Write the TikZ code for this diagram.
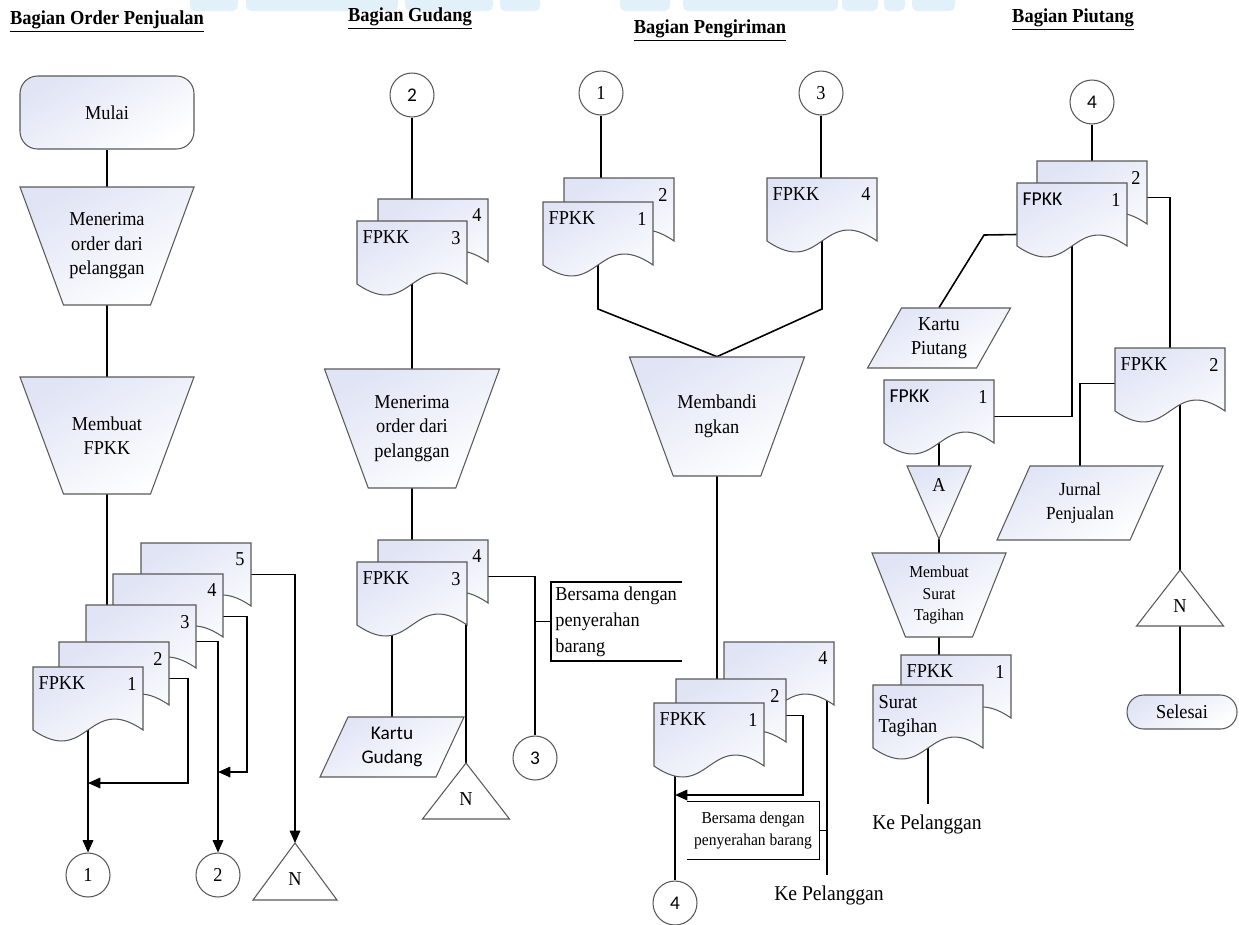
\documentclass[tikz,border=0pt]{standalone}
\usepackage{fontspec}
\setmainfont{Liberation Serif}[FakeStretch=0.93]
\newfontfamily\calibri{Carlito}
\usepackage{tikz}
\usetikzlibrary{arrows.meta,calc}
\definecolor{biru}{RGB}{224,228,245}
\definecolor{pita}{RGB}{226,240,250}
\pgfdeclarelayer{belakang}
\pgfsetlayers{belakang,main}
\newcommand{\kecil}{\fontsize{9.5}{12}\selectfont}
\newcommand{\besar}{\fontsize{12}{14}\selectfont}
\newcommand{\hurufsans}{\calibri\fontsize{11}{14}\selectfont}
\tikzset{
  garis/.style={draw=black, line width=0.9pt},
  panah/.style={garis, -{Triangle[length=7pt,width=6pt]}},
  bentuk/.style={draw=black!65, line width=0.6pt, top color=biru, bottom color=white, shading angle=30},
  polos/.style={draw=black!65, line width=0.6pt, fill=white},
  isi/.style={inner sep=0pt, align=center},
  kotak/.style={inner sep=0pt, minimum width=2.2cm, minimum height=1.26cm},
  tulisanki/.style={anchor=north west, inner xsep=3pt, inner ysep=5.5pt, align=left},
  tulisanka/.style={anchor=north east, inner xsep=3.5pt, inner ysep=5.5pt},
  lingkar/.style={circle, polos, minimum size=0.88cm, inner sep=0pt},
  judul/.style={font=\fontsize{11.3}{13}\selectfont\bfseries},
  catatan/.style={inner sep=0pt, align=left}
}
% dokumen: nama, x kiri, y atas, teks kiri, teks kanan
\newcommand{\dokumen}[5]{%
  \draw[bentuk] (#2,#3) -- ({#2+110},#3) -- ({#2+110},{#3+63})
    .. controls ({#2+55},{#3+25}) and ({#2+55},{#3+101}) .. (#2,{#3+63}) -- cycle;
  \node[kotak] (#1) at ({#2+55},{#3+31.5}) {};
  \node[tulisanki] (#1l) at (#2,#3) {#4};
  \node[tulisanka] (#1r) at ({#2+110},#3) {#5};
}
% proses manual: nama, x tengah, y atas, lebar atas, tinggi, teks
\newcommand{\proses}[7][]{%
  \draw[bentuk] ({#3-#5/2},#4) -- ({#3+#5/2},#4) -- ({#3+#5/4},{#4+#6})
    -- ({#3-#5/4},{#4+#6}) -- cycle;
  \node[isi, minimum width={#5*0.02cm}, minimum height={#6*0.02cm}, #1] (#2) at (#3,{#4+#6/2}) {#7};
}
% data: nama, x tengah, y atas, lebar, miring, tinggi, teks
\newcommand{\data}[8][]{%
  \draw[bentuk] ({#3-#5/2+#6/2},#4) -- ({#3+#5/2+#6/2},#4) -- ({#3+#5/2-#6/2},{#4+#7})
    -- ({#3-#5/2-#6/2},{#4+#7}) -- cycle;
  \node[isi, minimum height={#7*0.02cm}, #1] (#2) at (#3,{#4+#7/2}) {#8};
}
% arsip: nama, x puncak, y puncak, lebar, tinggi, teks
\newcommand{\segitiga}[6]{%
  \draw[polos] (#2,#3) -- ({#2+#4/2},{#3+#5}) -- ({#2-#4/2},{#3+#5}) -- cycle;
  \coordinate (#1a) at (#2,#3);
  \coordinate (#1b) at (#2,{#3+#5});
  \node[isi] (#1) at (#2,{#3+#5*0.64}) {#6};
}
\begin{document}
\begin{tikzpicture}[x=0.02cm, y=-0.02cm, font=\fontsize{11.2}{14}\selectfont]
  \useasboundingbox (0,0) rectangle (1239,924);
  % pita di atas
  \foreach \a/\b in {190/238, 246/398, 405/493, 500/540, 620/670, 683/838, 842/878, 884/905, 912/955}
    \fill[pita, rounded corners=3pt] (\a,-6) rectangle (\b,11);
  % Bagian Order Penjualan
  \begin{scope}
    \node[judul] (j1) at (107,22) {\underline{Bagian Order Penjualan}};
    \node[bentuk, rounded corners=10pt, minimum width=3.48cm, minimum height=1.46cm] (mulai) at (107,112.5) {Mulai};
    \proses{p1}{107}{187}{174}{118}{Menerima\\order dari\\pelanggan}
    \proses{p2}{107}{377}{174}{117}{Membuat\\FPKK}
    \dokumen{d15}{141}{543}{}{5}
    \dokumen{d14}{113}{574}{}{4}
    \dokumen{d13}{86}{605}{}{3}
    \dokumen{d12}{59}{642}{}{2}
    \dokumen{d11}{33}{667}{FPKK}{1}
    \node[lingkar] (k11) at (88,875) {1};
    \node[lingkar] (k12) at (218,875) {2};
    \segitiga{n1}{295}{843}{84}{57}{N}
    \coordinate (b11) at (188,783);
    \coordinate (b12) at (247,772);
    \begin{pgfonlayer}{belakang}
      \draw[garis] (mulai) -- (p1);
      \draw[garis] (p1) -- (p2);
      \draw[garis] (p2.south) -- (p2.south |- d13.north);
      \draw[panah] (d11) -- (k11);
      \draw[panah] ($(d12.east)+(0,5)$) -| (b11) -- (b11 -| k11);
      \draw[panah] ($(d13.east)+(0,5)$) -| (k12.north);
      \draw[panah] ($(d14.east)+(0,11)$) -| (b12) -- (b12 -| k12);
      \draw[panah] (d15.east) -| (n1a);
    \end{pgfonlayer}
  \end{scope}
  % Bagian Gudang
  \begin{scope}
    \node[judul] (j2) at (410,19) {\underline{Bagian Gudang}};
    \node[lingkar, font=\hurufsans] (k21) at (412,95) {2};
    \dokumen{d24}{378}{199}{}{4}
    \dokumen{d23}{357}{221}{FPKK}{3}
    \proses{p3}{412}{369}{175}{119}{Menerima\\order dari\\pelanggan}
    \dokumen{d26}{378}{540}{}{4}
    \dokumen{d25}{357}{562}{FPKK}{3}
    \data[font=\hurufsans]{kg}{392}{717}{116}{28}{60}{Kartu\\Gudang}
    \segitiga{n2}{466}{763}{87}{56}{N}
    \node[lingkar, font=\hurufsans] (k22) at (535,758) {3};
    \node[catatan, anchor=west, font=\fontsize{11.2}{14.8}\selectfont] (kb1) at (555,621.5) {Bersama dengan\\penyerahan\\barang};
    \coordinate (kb1k) at (551,621.5);
    \draw[garis] (682,582) -- (551,582) -- (551,661) -- (682,661);
    \begin{pgfonlayer}{belakang}
      \draw[garis] (k21) -- (k21 |- d24.north);
      \draw[garis] (d23) -- (p3);
      \draw[garis] (p3) -- (p3.south |- d26.north);
      \draw[garis] (kg.north |- d25.center) -- (kg.north);
      \draw[garis] (n2a |- d25.east) -- (n2a);
      \draw[garis] ($(d26.east)+(0,5)$) -| (k22.north);
      \draw[garis] (k22 |- kb1k) -- (kb1k);
    \end{pgfonlayer}
  \end{scope}
  % Bagian Pengiriman
  \begin{scope}
    \node[judul] (j3) at (710,31) {\underline{Bagian Pengiriman}};
    \node[lingkar] (k31) at (601,93) {1};
    \node[lingkar] (k32) at (821,93) {3};
    \dokumen{d32}{564}{178}{}{2}
    \dokumen{d31}{543}{202}{FPKK}{1}
    \dokumen{d33}{767}{178}{FPKK}{4}
    \proses{p4}{717}{357}{175}{119}{Membandi\\ngkan}
    \dokumen{d36}{724}{642}{}{4}
    \dokumen{d35}{676}{679}{}{2}
    \dokumen{d34}{654}{703}{FPKK}{1}
    \node[lingkar, font=\hurufsans] (k33) at (675,903) {4};
    \node[isi, font=\kecil, minimum width=2.64cm, minimum height=1.14cm] (kb2) at (753,830.5) {Bersama dengan\\penyerahan barang};
    \draw[garis] (kb2.north west) -- (kb2.north east) -- (kb2.south east) -- (kb2.south west);
    \node[isi, font=\besar] (kp1) at (829,895) {Ke Pelanggan};
    \coordinate (s31) at (598,309);
    \coordinate (s32) at (822,309);
    \coordinate (b31) at (803,795);
    \coordinate (e31) at (827,875);
    \begin{pgfonlayer}{belakang}
      \draw[garis] (k31) -- (k31 |- d32.north);
      \draw[garis] (k32) -- (k32 |- d33.north);
      \draw[garis] (d31.center) -- (s31) -- (p4.north);
      \draw[garis] (d33.center) -- (s32) -- (p4.north);
      \draw[garis] (p4) -- (p4.south |- d35.north);
      \draw[garis] (k33 |- d34.center) -- (k33);
      \draw[panah] ($(d35.east)+(0,5)$) -| (b31) -- (b31 -| k33);
      \draw[garis] (e31 |- d36.center) -- (e31);
      \draw[garis] (kb2.east) -- (kb2.east -| e31);
    \end{pgfonlayer}
  \end{scope}
  % Bagian Piutang
  \begin{scope}
    \node[judul] (j4) at (1073,20) {\underline{Bagian Piutang}};
    \node[lingkar, font=\hurufsans] (k41) at (1092,102) {4};
    \dokumen{d42}{1037}{161}{}{2}
    \dokumen{d41}{1017}{183}{\calibri FPKK}{1}
    \data{kpiu}{939}{308}{109}{34}{60}{Kartu\\Piutang}
    \dokumen{d43}{884}{380}{\calibri FPKK}{1}
    \dokumen{d44}{1115}{348}{FPKK}{2}
    \data[font=\fontsize{10.5}{14}\selectfont]{jp}{1080}{466}{133}{33}{74}{Jurnal\\Penjualan}
    \draw[bentuk] (907,466) -- (971,466) -- (939,539) -- cycle;
    \node[isi] (sa) at (939,485) {A};
    \coordinate (saa) at (939,466);
    \coordinate (sab) at (939,539);
    \proses[font=\kecil]{p5}{939}{553}{134}{84}{Membuat\\Surat\\Tagihan}
    \dokumen{d46}{901}{655}{FPKK}{1}
    \dokumen{d45}{873}{685}{Surat\\Tagihan}{}
    \node[isi, inner ysep=5.5pt, font=\besar] (kp2) at (927,824) {Ke Pelanggan};
    \segitiga{n3}{1180}{570}{87}{56}{N}
    \node[bentuk, rounded corners=9.5pt, minimum width=2.2cm, minimum height=0.68cm] (selesai) at (1182,712) {Selesai};
    \coordinate (t41) at (984,235);
    \begin{pgfonlayer}{belakang}
      \draw[garis] (k41) -- (k41 |- d42.north);
      \draw[garis] ($(d41.west)+(0,20)$) -- (t41) -- (kpiu.north);
      \draw[garis] ($(d43.east)+(0,5)$) -| (d41.center);
      \draw[garis] ($(d42.east)+(0,5)$) -| (d44.north);
      \draw[garis] ($(d44.west)+(0,4)$) -| (jp.north);
      \draw[garis] (n3a |- d44.center) -- (n3a);
      \draw[garis] (n3b) -- (n3b |- selesai.north);
      \draw[garis] (d43.center) -- (saa);
      \draw[garis] (sab) -- (p5.north);
      \draw[garis] (p5) -- (p5.south |- d46.north);
      \draw[garis] (d45.center) -- (d45.center |- kp2.north);
    \end{pgfonlayer}
  \end{scope}
\end{tikzpicture}
\end{document}
